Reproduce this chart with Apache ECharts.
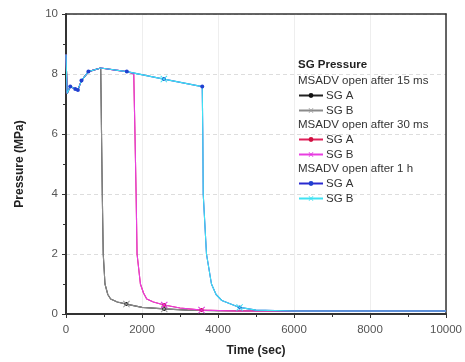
<!DOCTYPE html>
<html><head><meta charset="utf-8">
<script src="https://cdn.jsdelivr.net/npm/echarts@6/dist/echarts.min.js"></script>
<style>html,body{margin:0;padding:0;background:#fff}#c{width:465px;height:362px}</style>
</head><body><div id="c"></div>
<script>
// Time (sec), Pressure (MPa)
const case15ms = [[0,8.65],[30,7.35],[112,7.58],[243,7.5],[313,7.47],[407,7.78],[590,8.08],[914,8.2],[935,6],[955,4],[980,2],[1026,1],[1100,0.65],[1175,0.5],[1350,0.4],[1590,0.33],[2000,0.22],[2585,0.17],[3200,0.13],[4000,0.11],[6000,0.1],[10000,0.1]];
const case30ms = [[0,8.65],[30,7.35],[112,7.58],[243,7.5],[313,7.47],[407,7.78],[590,8.08],[914,8.2],[1300,8.13],[1600,8.08],[1783,8.0],[1815,6],[1845,4],[1870,2],[1958,1],[2040,0.7],[2125,0.5],[2300,0.4],[2585,0.3],[3000,0.2],[3567,0.13],[4500,0.1],[6000,0.1],[10000,0.1]];
const case1h = [[0,8.65],[30,7.35],[112,7.58],[243,7.5],[313,7.47],[407,7.78],[590,8.08],[914,8.2],[1600,8.08],[2574,7.83],[3585,7.58],[3600,6],[3611,4],[3697,2],[3828,1],[3950,0.65],[4100,0.45],[4569,0.22],[5000,0.13],[6000,0.1],[10000,0.1]];
const marks15msA = [15,17];
const marks15msB = [15,17];
const marks30msA = [18,20];
const marks30msB = [18,20];
const marks1hA = [2,3,4,5,6,8,9,10,17];
const marks1hB = [9,17];
const yTicks = [0,2,4,6,8,10];
const xTicks = [0,2000,4000,6000,8000,10000];
const groupTitles = ['MSADV open after 15 ms','MSADV open after 30 ms','MSADV open after 1 h'];

const cross = 'path://M0,1L1,0L5,4L9,0L10,1L6,5L10,9L9,10L5,6L1,10L0,9L4,5Z';
function build(points, marks){
  return points.map((p,i)=> marks.includes(i) ? p : {value:p, symbol:'none'});
}
function ser(name, pts, marks, lineColor, symColor, symbol, size){
  return {name, type:'line', data:build(pts,marks), symbol, symbolSize:size,
    showAllSymbol:true, lineStyle:{color:lineColor,width:1.1},
    itemStyle:{color:symColor}, animation:false, xAxisIndex:0, yAxisIndex:0};
}
const series = [
  ser('15ms SG A', case15ms, marks15msA, '#222', '#111', 'circle', 4),
  ser('15ms SG B', case15ms, marks15msB, '#8a8a8a', '#999', cross, 7),
  ser('30ms SG A', case30ms, marks30msA, '#e0205a', '#d01040', 'circle', 4),
  ser('30ms SG B', case30ms, marks30msB, '#e83ee0', '#e030e0', cross, 7),
  ser('1h SG A', case1h, marks1hA, '#2a2ad0', '#2040d0', 'circle', 4),
  ser('1h SG B', case1h, marks1hB, '#3fe3f3', '#40e0f0', cross, 7)
];
const legendBase = {orient:'vertical', left:298, itemWidth:24, itemHeight:6, itemGap:2,
  textStyle:{fontFamily:'Liberation Sans', fontSize:11.5, color:'#333', padding:[0,0,0,-2], lineHeight:13},
  formatter: n => n.replace(/^\S+ /,''), selectedMode:false, padding:0};
const chart = echarts.init(document.getElementById('c'), null, {renderer:'canvas'});
const hid = {axisLabel:{show:false}, axisTick:{show:false}, splitLine:{show:false}};
chart.setOption({
  backgroundColor:'#fff',
  animation:false,
  title:[
    {text:'SG Pressure', left:298, top:59, padding:0, textStyle:{fontFamily:'Liberation Sans', fontSize:11.5, fontWeight:'bold', color:'#222'}},
    {text:groupTitles[0], left:298, top:75, padding:0, textStyle:{fontFamily:'Liberation Sans', fontSize:11.5, fontWeight:'normal', color:'#333'}},
    {text:groupTitles[1], left:298, top:119, padding:0, textStyle:{fontFamily:'Liberation Sans', fontSize:11.5, fontWeight:'normal', color:'#333'}},
    {text:groupTitles[2], left:298, top:163, padding:0, textStyle:{fontFamily:'Liberation Sans', fontSize:11.5, fontWeight:'normal', color:'#333'}}
  ],
  legend:[
    Object.assign({}, legendBase, {top:89, data:['15ms SG A','15ms SG B']}),
    Object.assign({}, legendBase, {top:133, data:['30ms SG A','30ms SG B']}),
    Object.assign({}, legendBase, {top:177, data:['1h SG A','1h SG B']})
  ],
  grid:{left:66, right:19, top:14, bottom:47, show:false},
  xAxis:[{type:'value', min:0, max:10000, interval:2000,
    name:'Time (sec)', nameLocation:'middle', nameGap:31,
    nameTextStyle:{fontFamily:'Liberation Sans', fontSize:12, fontWeight:'bold', color:'#222'},
    axisLine:{lineStyle:{color:'#333', width:2}},
    axisTick:{show:true, length:4, lineStyle:{color:'#333'}},
    minorTick:{show:true, splitNumber:2, length:3, lineStyle:{color:'#333'}},
    axisLabel:{fontFamily:'Liberation Sans', fontSize:11.5, color:'#555', margin:10,
      formatter: v => xTicks.includes(v) ? String(v) : ''},
    splitLine:{show:true, lineStyle:{color:'#eeeeee', width:1}}
  },
  Object.assign({type:'value', min:0, max:10000, position:'top', axisLine:{show:true, onZero:false, lineStyle:{color:'#333', width:1.5}}}, hid)],
  yAxis:[{type:'value', min:0, max:10, interval:2,
    name:'Pressure (MPa)', nameLocation:'middle', nameGap:40,
    nameTextStyle:{fontFamily:'Liberation Sans', fontSize:12, fontWeight:'bold', color:'#222'},
    axisLine:{show:true, lineStyle:{color:'#333', width:2}},
    axisTick:{show:true, length:4, lineStyle:{color:'#333'}},
    minorTick:{show:true, splitNumber:2, length:3, lineStyle:{color:'#333'}},
    axisLabel:{fontFamily:'Liberation Sans', fontSize:11.5, color:'#555', margin:8,
      formatter: v => yTicks.includes(v) ? String(v) : ''},
    splitLine:{show:true, lineStyle:{color:'#dddddd', type:[4,3], width:1}}
  },
  Object.assign({type:'value', min:0, max:10, position:'right', axisLine:{show:true, onZero:false, lineStyle:{color:'#333', width:1.5}}}, hid)],
  series
});
</script></body></html>
